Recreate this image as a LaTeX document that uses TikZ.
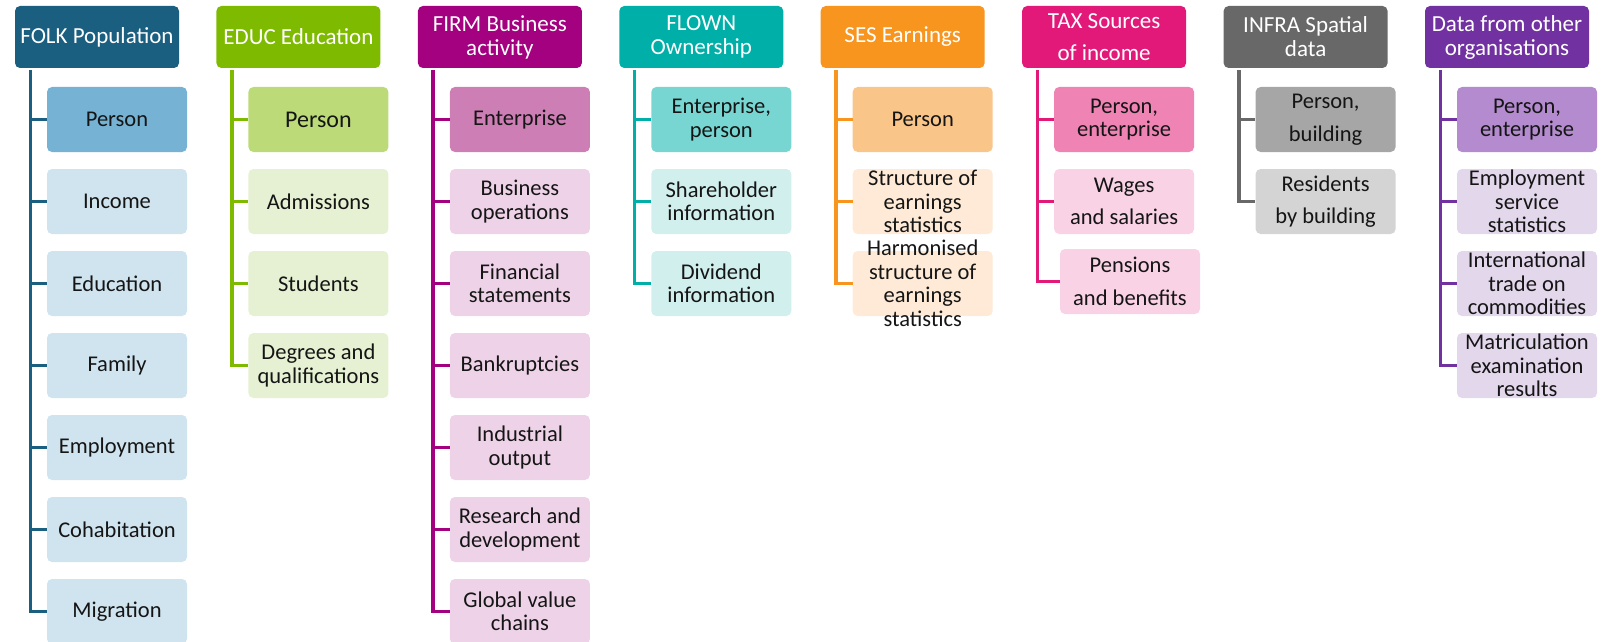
\documentclass[tikz,border=0pt]{standalone}
\usepackage{fontspec}
\setmainfont{Carlito}
\definecolor{txt}{HTML}{151515}
\definecolor{folkD}{HTML}{1A5E80}\definecolor{folkM}{HTML}{75B2D4}\definecolor{folkL}{HTML}{D0E4EF}
\definecolor{educD}{HTML}{7EBA00}\definecolor{educM}{HTML}{BCDB78}\definecolor{educL}{HTML}{E5F1D2}
\definecolor{firmD}{HTML}{A3017F}\definecolor{firmM}{HTML}{CD7FB5}\definecolor{firmL}{HTML}{EED3E8}
\definecolor{flowD}{HTML}{00AFA8}\definecolor{flowM}{HTML}{78D6D2}\definecolor{flowL}{HTML}{D1EFED}
\definecolor{sesD}{HTML}{F7951F}\definecolor{sesM}{HTML}{FAC589}\definecolor{sesL}{HTML}{FEEAD6}
\definecolor{taxD}{HTML}{E3197A}\definecolor{taxM}{HTML}{EE83B4}\definecolor{taxL}{HTML}{F9D3E5}
\definecolor{infD}{HTML}{686868}\definecolor{infM}{HTML}{A6A6A6}\definecolor{infL}{HTML}{D4D4D4}
\definecolor{othD}{HTML}{7131A0}\definecolor{othM}{HTML}{B38BCE}\definecolor{othL}{HTML}{E3D7EC}
\begin{document}
\begin{tikzpicture}[x=1pt,y=-1pt,
  head/.style={rounded corners=5pt, minimum width=164pt, minimum height=62pt, inner sep=0pt,
    text=white, align=center, font=\fontsize{23}{24}\selectfont},
  kid/.style={rounded corners=5pt, minimum width=140pt, minimum height=65pt, inner sep=0pt},
  lab/.style={inner sep=0pt, align=center, text=txt, font=\fontsize{22.5}{23.5}\selectfont},
  conn/.style={line width=3.6pt}]
\useasboundingbox (0,0) rectangle (1604,642);

% ---------- FOLK ----------
\node[head, fill=folkD] (hA) at (97,37) {FOLK Population};
\node[kid, fill=folkM, label={[lab]center:Person}] (a1) at (117,119.5) {};
\node[kid, fill=folkL, label={[lab]center:Income}] (a2) at (117,201.5) {};
\node[kid, fill=folkL, label={[lab]center:Education}] (a3) at (117,283.5) {};
\node[kid, fill=folkL, label={[lab]center:Family}] (a4) at (117,365.5) {};
\node[kid, fill=folkL, label={[lab]center:Employment}] (a5) at (117,447.5) {};
\node[kid, fill=folkL, label={[lab]center:Cohabitation}] (a6) at (117,529.5) {};
\node[kid, fill=folkL, label={[lab]center:Migration}] (a7) at (117,611.5) {};
\coordinate (sA) at ([xshift=15.5pt,yshift=-2pt]hA.south west);
\foreach \k in {a1,a2,a3,a4,a5,a6,a7} \draw[conn, folkD] (sA) |- (\k.west);

% ---------- EDUC ----------
\node[head, fill=educD] (hB) at (298.4,37) {EDUC Education};
\node[kid, fill=educM, label={[lab, font=\fontsize{24}{25}\selectfont]center:Person}] (b1) at (318.4,119.5) {};
\node[kid, fill=educL, label={[lab]center:Admissions}] (b2) at (318.4,201.5) {};
\node[kid, fill=educL, label={[lab]center:Students}] (b3) at (318.4,283.5) {};
\node[kid, fill=educL, label={[lab]center:{Degrees and\\qualifications}}] (b4) at (318.4,365.5) {};
\coordinate (sB) at ([xshift=15.5pt,yshift=-2pt]hB.south west);
\foreach \k in {b1,b2,b3,b4} \draw[conn, educD] (sB) |- (\k.west);

% ---------- FIRM ----------
\node[head, fill=firmD] (hC) at (499.9,37) {FIRM Business\\activity};
\node[kid, fill=firmM, label={[lab]center:Enterprise}] (c1) at (519.9,119.5) {};
\node[kid, fill=firmL, label={[lab]center:{Business\\operations}}] (c2) at (519.9,201.5) {};
\node[kid, fill=firmL, label={[lab]center:{Financial\\statements}}] (c3) at (519.9,283.5) {};
\node[kid, fill=firmL, label={[lab]center:Bankruptcies}] (c4) at (519.9,365.5) {};
\node[kid, fill=firmL, label={[lab]center:{Industrial\\output}}] (c5) at (519.9,447.5) {};
\node[kid, fill=firmL, label={[lab]center:{Research and\\development}}] (c6) at (519.9,529.5) {};
\node[kid, fill=firmL, label={[lab]center:{Global value\\chains}}] (c7) at (519.9,611.5) {};
\coordinate (sC) at ([xshift=15.5pt,yshift=-2pt]hC.south west);
\foreach \k in {c1,c2,c3,c4,c5,c6,c7} \draw[conn, firmD] (sC) |- (\k.west);

% ---------- FLOWN ----------
\node[head, fill=flowD] (hD) at (701.3,37) {FLOWN\\Ownership};
\node[kid, fill=flowM, label={[lab]center:{Enterprise,\\person}}] (d1) at (721.3,119.5) {};
\node[kid, fill=flowL, label={[lab]center:{Shareholder\\information}}] (d2) at (721.3,201.5) {};
\node[kid, fill=flowL, label={[lab]center:{Dividend\\information}}] (d3) at (721.3,283.5) {};
\coordinate (sD) at ([xshift=15.5pt,yshift=-2pt]hD.south west);
\foreach \k in {d1,d2,d3} \draw[conn, flowD] (sD) |- (\k.west);

% ---------- SES ----------
\node[head, fill=sesD] (hE) at (902.7,37) {SES Earnings};
\node[kid, fill=sesM, label={[lab]center:Person}] (e1) at (922.7,119.5) {};
\node[kid, fill=sesL, label={[lab]center:{Structure of\\earnings\\statistics}}] (e2) at (922.7,201.5) {};
\node[kid, fill=sesL, label={[lab]center:{Harmonised\\structure of\\earnings\\statistics}}] (e3) at (922.7,283.5) {};
\coordinate (sE) at ([xshift=15.5pt,yshift=-2pt]hE.south west);
\foreach \k in {e1,e2,e3} \draw[conn, sesD] (sE) |- (\k.west);

% ---------- TAX ----------
\node[head, fill=taxD] (hF) at (1104.1,37) {TAX Sources\\[8pt]of income};
\node[kid, fill=taxM, label={[lab]center:{Person,\\enterprise}}] (f1) at (1124.1,119.5) {};
\node[kid, fill=taxL, label={[lab]center:{Wages\\[9pt]and salaries}}] (f2) at (1124.1,201.5) {};
\node[kid, fill=taxL, label={[lab]center:{Pensions\\[9pt]and benefits}}] (f3) at (1130,281.5) {};
\coordinate (sF) at ([xshift=15.5pt,yshift=-2pt]hF.south west);
\foreach \k in {f1,f2,f3} \draw[conn, taxD] (sF) |- (\k.west);

% ---------- INFRA ----------
\node[head, fill=infD] (hG) at (1305.6,37) {INFRA Spatial\\data};
\node[kid, fill=infM, label={[lab]center:{Person,\\[9pt]building}}] (g1) at (1325.6,119.5) {};
\node[kid, fill=infL, label={[lab]center:{Residents\\[9pt]by building}}] (g2) at (1325.6,201.5) {};
\coordinate (sG) at ([xshift=15.5pt,yshift=-2pt]hG.south west);
\foreach \k in {g1,g2} \draw[conn, infD] (sG) |- (\k.west);

% ---------- Other organisations ----------
\node[head, fill=othD] (hH) at (1507,37) {Data from other\\organisations};
\node[kid, fill=othM, label={[lab]center:{Person,\\enterprise}}] (h1) at (1527,119.5) {};
\node[kid, fill=othL, label={[lab]center:{Employment\\service\\statistics}}] (h2) at (1527,201.5) {};
\node[kid, fill=othL, label={[lab]center:{International\\trade on\\commodities}}] (h3) at (1527,283.5) {};
\node[kid, fill=othL, label={[lab]center:{Matriculation\\examination\\results}}] (h4) at (1527,365.5) {};
\coordinate (sH) at ([xshift=15.5pt,yshift=-2pt]hH.south west);
\foreach \k in {h1,h2,h3,h4} \draw[conn, othD] (sH) |- (\k.west);
\end{tikzpicture}
\end{document}
